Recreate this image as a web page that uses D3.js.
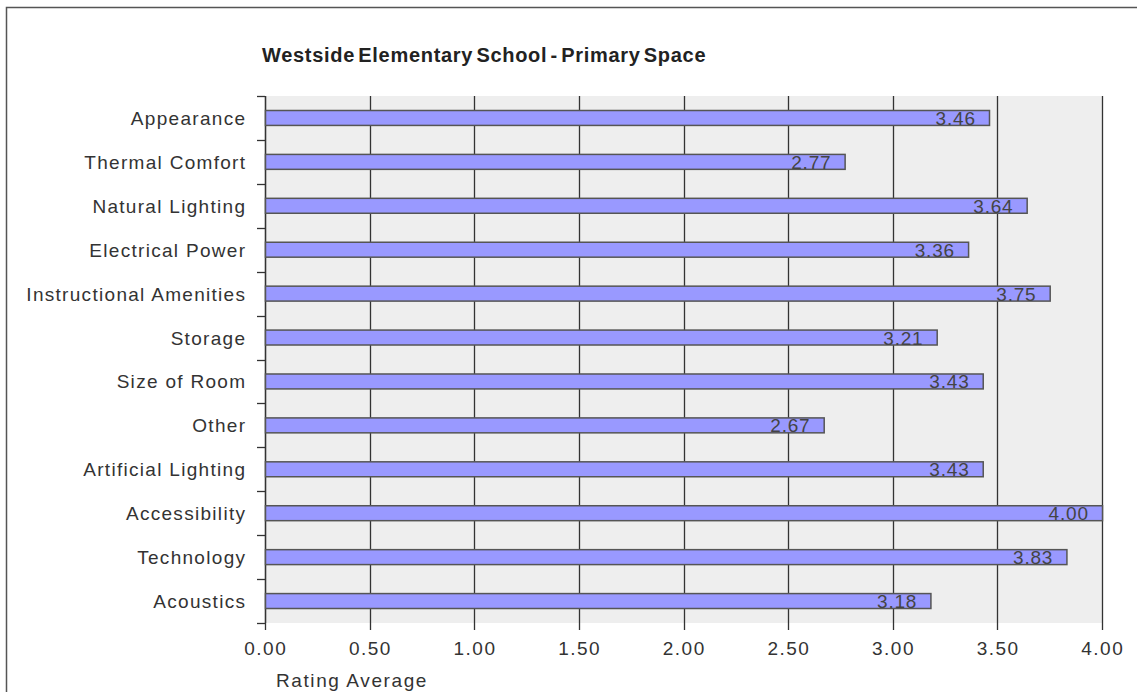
<!DOCTYPE html>
<html><head><meta charset="utf-8">
<script src="https://cdn.jsdelivr.net/npm/d3@7"></script>
<style>
html,body{margin:0;padding:0;background:#fff;}
svg{display:block;}
text{font-family:"Liberation Sans",Arial,sans-serif;}
</style></head>
<body>
<script>
const categories = ["Appearance","Thermal Comfort","Natural Lighting","Electrical Power","Instructional Amenities","Storage","Size of Room","Other","Artificial Lighting","Accessibility","Technology","Acoustics"];
const values = [3.46,2.77,3.64,3.36,3.75,3.21,3.43,2.67,3.43,4.00,3.83,3.18];
const xTicks = [0,0.5,1,1.5,2,2.5,3,3.5,4];
const title = "Westside Elementary School - Primary Space";
const xTitle = "Rating Average";

(function(){
const W = 1137, H = 692;
const svg = d3.select("body").append("svg").attr("width", W).attr("height", H);

svg.append("path").attr("d", "M6.5," + H + "V7.5H" + W).attr("fill","none").attr("stroke","#555").attr("stroke-width",1.5);

const pl = 265, pr = 1102, pt = 96, pb = 623;
const x = d3.scaleLinear().domain([0,4]).range([pl,pr]);
const y = d3.scaleBand().domain(categories).range([pt,pb]).paddingInner(0.66).paddingOuter(0.33);
const band = (pb-pt)/categories.length;

svg.append("rect").attr("x",pl).attr("y",pt).attr("width",pr-pl).attr("height",pb-pt).attr("fill","#eeeeee");

svg.append("g").selectAll("line").data(xTicks).join("line")
  .attr("x1",d=>Math.round(x(d))+0.5).attr("x2",d=>Math.round(x(d))+0.5)
  .attr("y1",pt).attr("y2",pb+7)
  .attr("stroke","#333").attr("stroke-width",1.3);

const tls = 1.5;
svg.append("g").selectAll("text").data(xTicks).join("text")
  .attr("x",d=>x(d)+tls/2).attr("y",655).attr("text-anchor","middle")
  .attr("font-size",19).attr("letter-spacing",tls).attr("fill","#333").text(d=>d3.format(".2f")(d));

svg.append("line").attr("x1",pl+0.5).attr("x2",pl+0.5).attr("y1",pt).attr("y2",pb).attr("stroke","#333").attr("stroke-width",1.3);
const edges = d3.range(categories.length+1).map(i=>pt+i*band);
svg.append("g").selectAll("line").data(edges).join("line")
  .attr("x1",pl-8).attr("x2",pl).attr("y1",d=>Math.round(d)+0.5).attr("y2",d=>Math.round(d)+0.5)
  .attr("stroke","#333").attr("stroke-width",1.3);

svg.append("g").selectAll("rect").data(values).join("rect")
  .attr("x",pl+0.5).attr("y",(d,i)=>y(categories[i]))
  .attr("width",d=>x(d)-pl).attr("height",y.bandwidth())
  .attr("fill","#9999ff").attr("stroke","#555").attr("stroke-width",1.5);

const vls = 0.8;
svg.append("g").selectAll("text").data(values).join("text")
  .attr("x",d=>x(d)-14+vls).attr("y",(d,i)=>y(categories[i])+y.bandwidth()/2+7)
  .attr("text-anchor","end").attr("font-size",19).attr("fill","#444")
  .attr("letter-spacing",vls).text(d=>d3.format(".2f")(d));

const cls = 1.3;
svg.append("g").selectAll("text").data(categories).join("text")
  .attr("x",245+cls).attr("y",d=>y(d)+y.bandwidth()/2+7).attr("text-anchor","end")
  .attr("font-size",19).attr("letter-spacing",cls).attr("fill","#333").text(d=>d);

svg.append("text").attr("x",262).attr("y",62).attr("font-size",20).attr("font-weight","bold")
  .attr("fill","#222").attr("letter-spacing",0.7).attr("word-spacing",-3).text(title);

svg.append("text").attr("x",276).attr("y",687).attr("font-size",19).attr("letter-spacing",1.6).attr("fill","#333").text(xTitle);
})();
</script>
</body></html>
